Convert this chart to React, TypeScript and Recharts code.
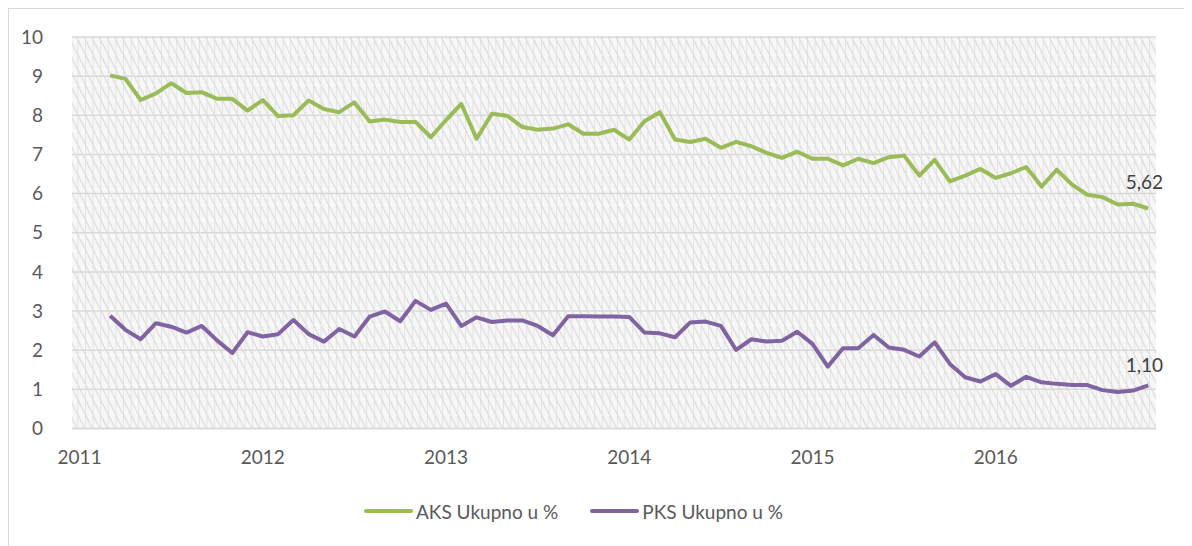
import React from 'react';
import { LineChart, Line, XAxis, YAxis, CartesianGrid, Legend, LabelList } from 'recharts';

const YEARS = ['2011', '2012', '2013', '2014', '2015', '2016'];
const MONTHS = ['01', '02', '03', '04', '05', '06', '07', '08', '09', '10', '11', '12'];
const CATEGORY_COUNT = 71;
const CATEGORIES = YEARS.flatMap((y) => MONTHS.map((m) => `${y}-${m}`)).slice(0, CATEGORY_COUNT);
const FIRST_DATA_INDEX = 2;

const SERIES_NAMES = ['AKS Ukupno u %', 'PKS Ukupno u %'];
const SERIES_COLORS = ['#9BBB59', '#8064A2'];

const AKS = [
  9.02, 8.93, 8.39, 8.56, 8.82, 8.57, 8.59, 8.42, 8.42, 8.12,
  8.39, 7.98, 8.0, 8.38, 8.16, 8.08, 8.33, 7.84, 7.89, 7.83,
  7.83, 7.44, 7.88, 8.29, 7.4, 8.04, 7.99, 7.7, 7.63, 7.66,
  7.77, 7.53, 7.53, 7.63, 7.38, 7.85, 8.08, 7.38, 7.32, 7.4,
  7.17, 7.32, 7.21, 7.04, 6.91, 7.07, 6.89, 6.89, 6.72, 6.89,
  6.78, 6.93, 6.97, 6.46, 6.86, 6.31, 6.46, 6.63, 6.4, 6.52,
  6.68, 6.18, 6.61, 6.23, 5.97, 5.91, 5.72, 5.74, 5.62,
];

const PKS = [
  2.88, 2.52, 2.28, 2.69, 2.6, 2.45, 2.62, 2.25, 1.93, 2.46,
  2.35, 2.41, 2.77, 2.41, 2.22, 2.54, 2.35, 2.86, 2.99, 2.74,
  3.26, 3.03, 3.19, 2.62, 2.84, 2.72, 2.76, 2.76, 2.62, 2.38,
  2.87, 2.87, 2.86, 2.86, 2.85, 2.45, 2.43, 2.33, 2.71, 2.73,
  2.62, 2.01, 2.28, 2.22, 2.24, 2.47, 2.16, 1.58, 2.05, 2.05,
  2.39, 2.07, 2.01, 1.84, 2.2, 1.65, 1.31, 1.2, 1.39, 1.09,
  1.32, 1.18, 1.14, 1.11, 1.11, 0.98, 0.93, 0.97, 1.1,
];

const Y_TICKS = [0, 1, 2, 3, 4, 5, 6, 7, 8, 9, 10];

const data = CATEGORIES.map((month, i) => {
  const k = i - FIRST_DATA_INDEX;
  return {
    month,
    aks: k >= 0 && k < AKS.length ? AKS[k] : null,
    pks: k >= 0 && k < PKS.length ? PKS[k] : null,
  };
});

const LAST_INDEX = FIRST_DATA_INDEX + AKS.length - 1;
const FONT = 'Lato, Carlito, "Open Sans", sans-serif';
const TEXT_COLOR = '#595959';

const fmt = (v: number) => v.toFixed(2).replace('.', ',');

const makeEndLabel = (dyOffset: number) => (props: any) => {
  const { x, y, value, index } = props;
  if (index !== LAST_INDEX || value == null) return null;
  return (
    <text
      x={x - 4}
      y={y - dyOffset}
      textAnchor="middle"
      dominantBaseline="central"
      fill="#404040"
      fontSize={19}
      fontFamily={FONT}
    >
      {fmt(value)}
    </text>
  );
};

const renderLegend = (props: any) => {
  const { payload } = props;
  return (
    <div style={{ height: 60, display: 'flex', alignItems: 'flex-start', fontFamily: FONT }}>
      {(payload || []).map((entry: any, i: number) => (
        <div
          key={i}
          style={{ display: 'flex', alignItems: 'center', marginTop: 14, height: 24, marginRight: 32 }}
        >
          <svg width={49} height={8} style={{ marginRight: 3 }}>
            <line x1={2} y1={4} x2={47} y2={4} stroke={entry.color} strokeWidth={4} strokeLinecap="round" />
          </svg>
          <span style={{ fontSize: 19, color: TEXT_COLOR, whiteSpace: 'nowrap' }}>{entry.value}</span>
        </div>
      ))}
    </div>
  );
};

export default function App() {
  return (
    <div
      style={{
        position: 'relative',
        width: 1184,
        height: 538,
        borderTop: '1.5px solid #d9d9d9',
        borderLeft: '1.5px solid #d9d9d9',
        boxSizing: 'border-box',
        background: '#fff',
      }}
    >
      <LineChart
        width={1182}
        height={536}
        data={data}
        margin={{ top: 28, right: 35, left: 23, bottom: 0 }}
        style={{ fontFamily: FONT }}
      >
        <defs>
          <pattern id="hatch" width={7.6} height={15} patternUnits="userSpaceOnUse">
            <rect x={0} y={0} width={7.6} height={15} fill="#f7f7f7" />
            <line x1={0.5} y1={0} x2={0.5} y2={15} stroke="#e4e4e4" strokeWidth={1} />
            <line x1={0} y1={0} x2={7.6} y2={15} stroke="#dadada" strokeWidth={1.1} />
            <line x1={-7.6} y1={0} x2={0} y2={15} stroke="#dadada" strokeWidth={1.1} />
          </pattern>
        </defs>
        <CartesianGrid
          vertical={false}
          stroke="#d9d9d9"
          strokeWidth={1.5}
          fill="url(#hatch)"
          fillOpacity={1}
        />
        <XAxis
          dataKey="month"
          type="category"
          scale="band"
          interval={11}
          tickFormatter={(v: string) => v.slice(0, 4)}
          tickLine={false}
          tickMargin={16}
          axisLine={{ stroke: '#d9d9d9', strokeWidth: 1.5 }}
          tick={{ fill: TEXT_COLOR, fontSize: 19, fontFamily: FONT }}
          height={56.5}
        />
        <YAxis
          domain={[0, 10]}
          ticks={Y_TICKS}
          interval={0}
          width={40}
          axisLine={false}
          tickLine={false}
          tickMargin={23}
          tick={{ fill: TEXT_COLOR, fontSize: 19, fontFamily: FONT }}
        />
        <Legend
          verticalAlign="bottom"
          align="left"
          content={renderLegend}
          wrapperStyle={{ left: 355, width: 520 }}
        />
        <Line
          type="linear"
          dataKey="aks"
          name={SERIES_NAMES[0]}
          stroke={SERIES_COLORS[0]}
          strokeWidth={4}
          strokeLinejoin="round"
          dot={false}
          activeDot={false}
          isAnimationActive={false}
        >
          <LabelList dataKey="aks" content={makeEndLabel(27)} />
        </Line>
        <Line
          type="linear"
          dataKey="pks"
          name={SERIES_NAMES[1]}
          stroke={SERIES_COLORS[1]}
          strokeWidth={4}
          strokeLinejoin="round"
          dot={false}
          activeDot={false}
          isAnimationActive={false}
        >
          <LabelList dataKey="pks" content={makeEndLabel(21)} />
        </Line>
      </LineChart>
    </div>
  );
}
